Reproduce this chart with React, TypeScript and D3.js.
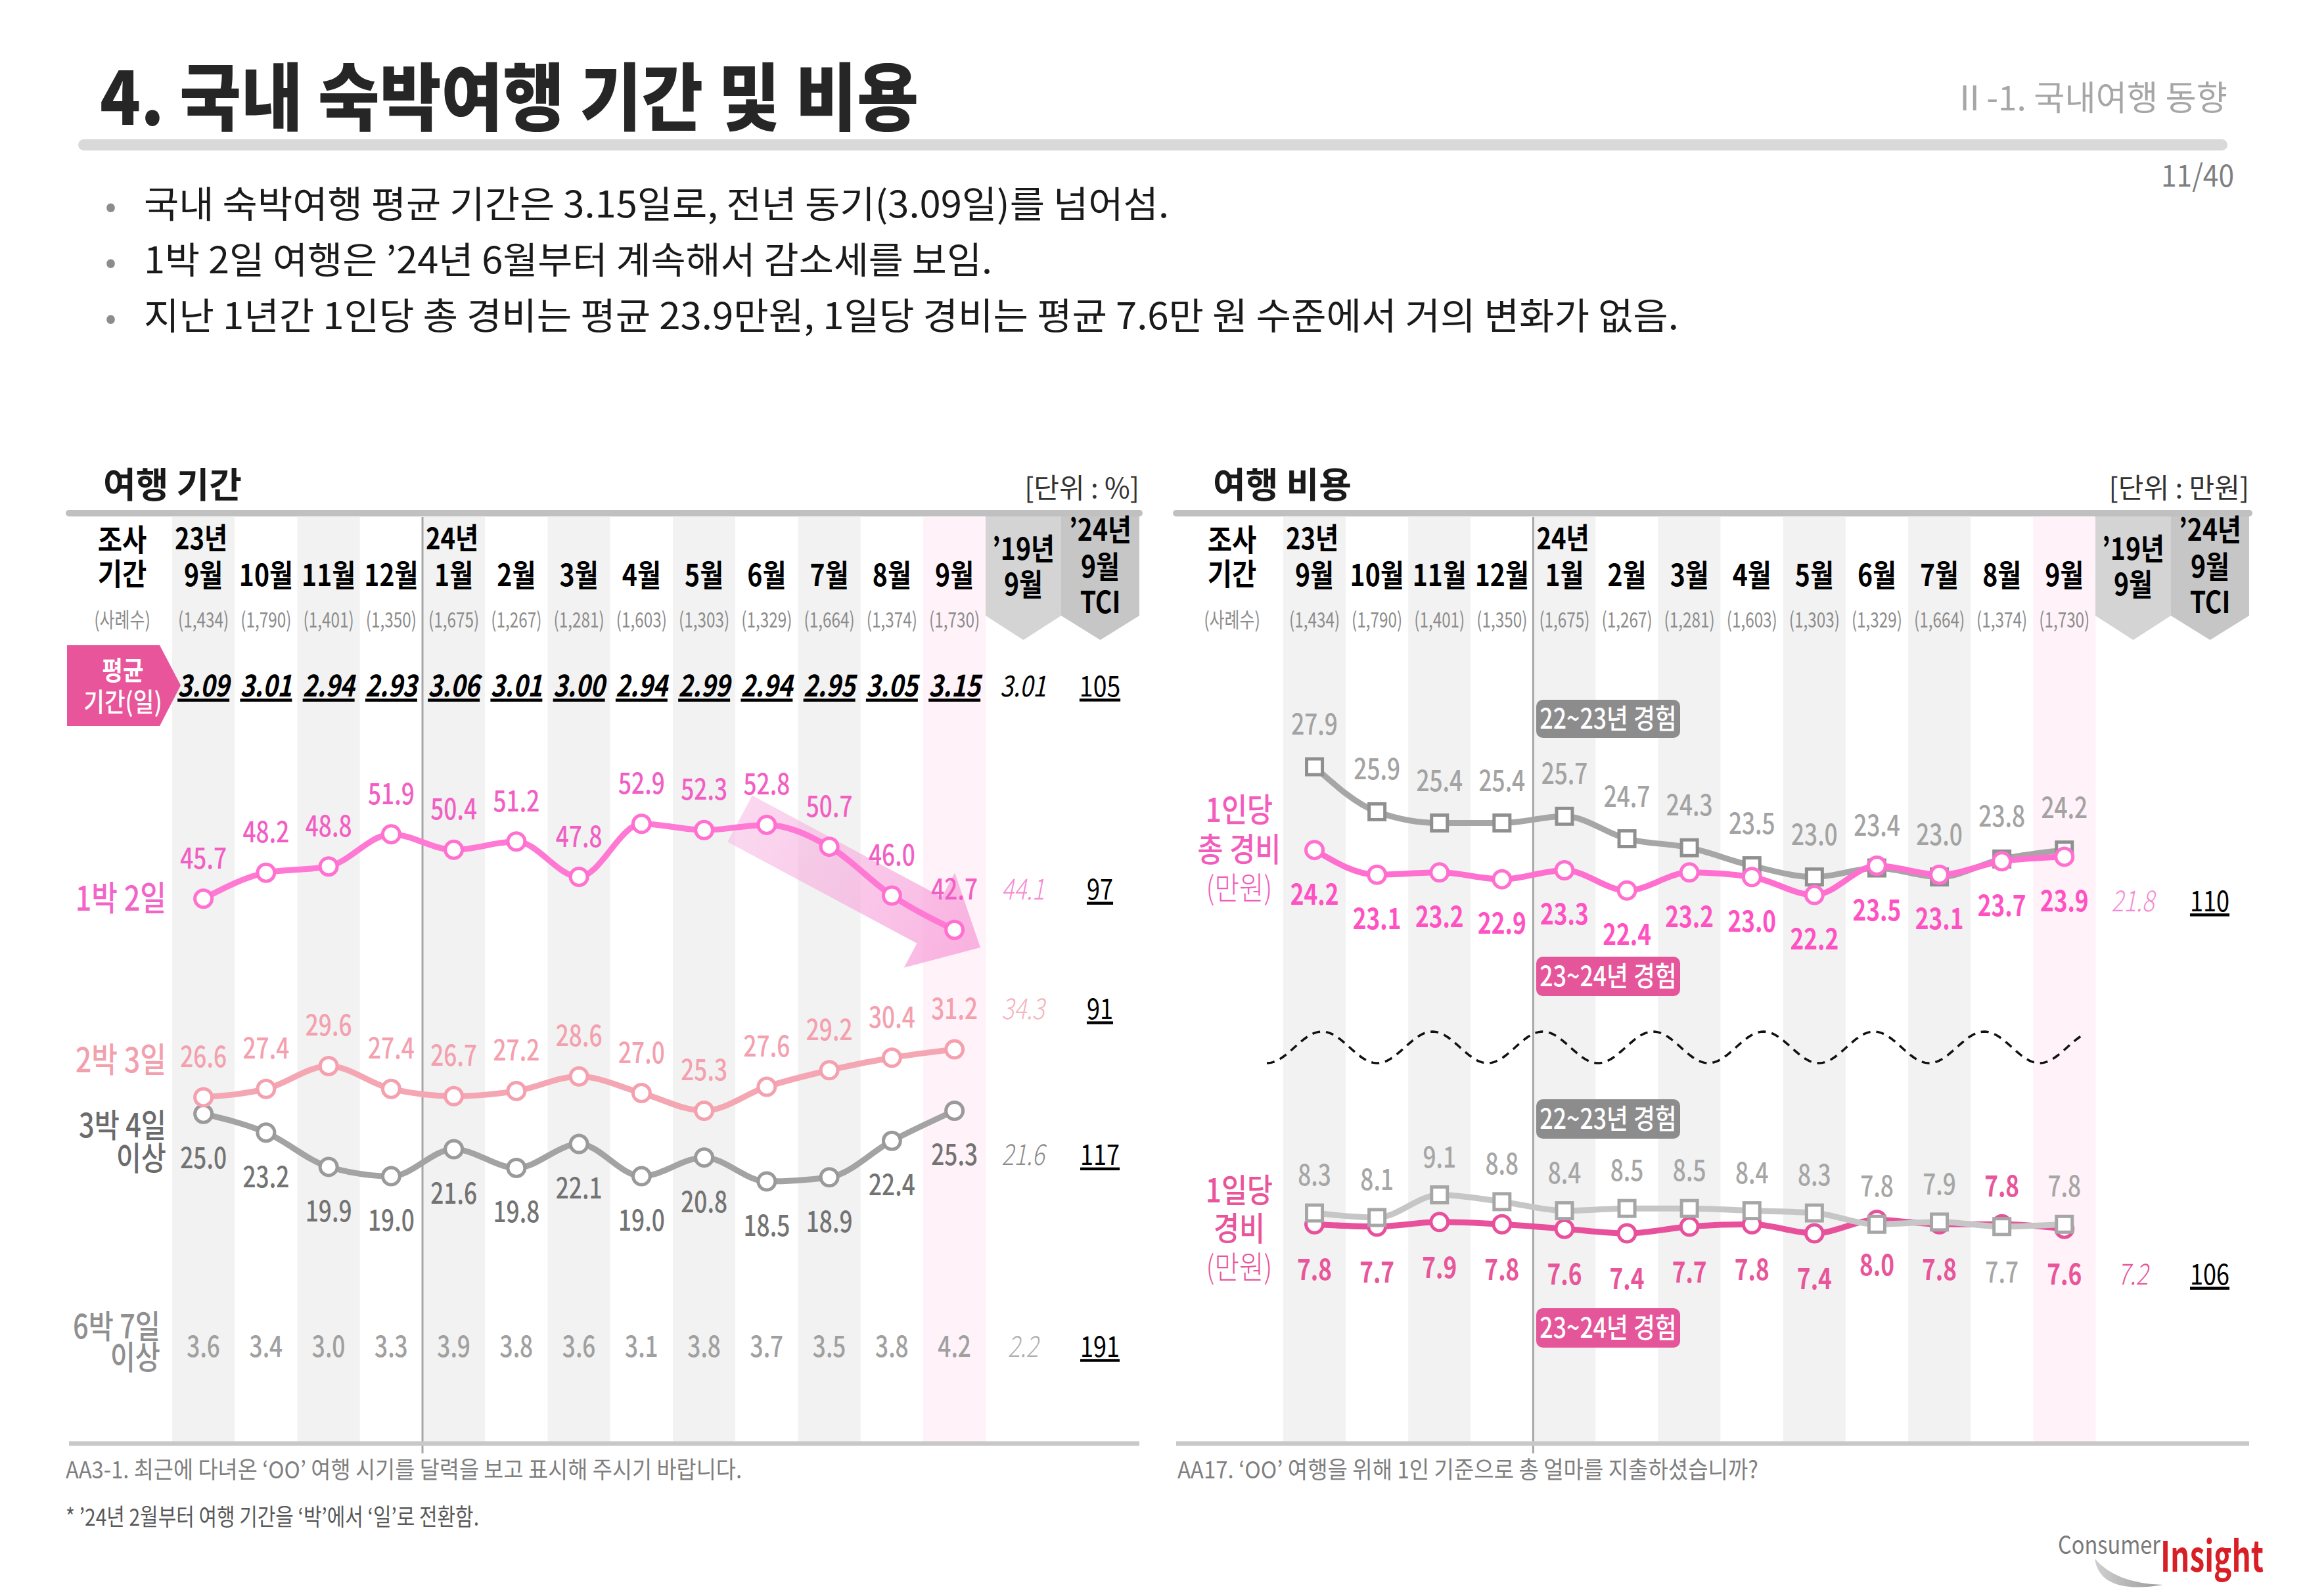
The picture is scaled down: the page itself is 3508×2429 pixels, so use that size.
import React from "react";
import * as d3 from "d3";

const FONT = '"Noto Sans CJK KR", "Noto Sans", sans-serif';

// ---------------- data ----------------
const monthLabels = ["9월", "10월", "11월", "12월", "1월", "2월", "3월", "4월", "5월", "6월", "7월", "8월", "9월"];
const sampleSizes = ["(1,434)", "(1,790)", "(1,401)", "(1,350)", "(1,675)", "(1,267)", "(1,281)", "(1,603)", "(1,303)", "(1,329)", "(1,664)", "(1,374)", "(1,730)"];
const avgDays = ["3.09", "3.01", "2.94", "2.93", "3.06", "3.01", "3.00", "2.94", "2.99", "2.94", "2.95", "3.05", "3.15"];
const avgDays19 = "3.01";
const avgDaysTCI = "105";

const stayNames = ["1박 2일", "2박 3일", "3박 4일", "6박 7일"];
const stay1n2d = [45.7, 48.2, 48.8, 51.9, 50.4, 51.2, 47.8, 52.9, 52.3, 52.8, 50.7, 46.0, 42.7];
const stay2n3d = [26.6, 27.4, 29.6, 27.4, 26.7, 27.2, 28.6, 27.0, 25.3, 27.6, 29.2, 30.4, 31.2];
const stay3n4d = [25.0, 23.2, 19.9, 19.0, 21.6, 19.8, 22.1, 19.0, 20.8, 18.5, 18.9, 22.4, 25.3];
const stay6n7d = [3.6, 3.4, 3.0, 3.3, 3.9, 3.8, 3.6, 3.1, 3.8, 3.7, 3.5, 3.8, 4.2];
const stay19 = [44.1, 34.3, 21.6, 2.2];
const stayTCI = [97, 91, 117, 191];

const totalCost2223 = [27.9, 25.9, 25.4, 25.4, 25.7, 24.7, 24.3, 23.5, 23.0, 23.4, 23.0, 23.8, 24.2];
const totalCost2324 = [24.2, 23.1, 23.2, 22.9, 23.3, 22.4, 23.2, 23.0, 22.2, 23.5, 23.1, 23.7, 23.9];
const dailyCost2223 = [8.3, 8.1, 9.1, 8.8, 8.4, 8.5, 8.5, 8.4, 8.3, 7.8, 7.9, 7.7, 7.8];
const dailyCost2324 = [7.8, 7.7, 7.9, 7.8, 7.6, 7.4, 7.7, 7.8, 7.4, 8.0, 7.8, 7.8, 7.6];
const cost19 = [21.8, 7.2];
const costTCI = [110, 106];
const dailyLabelSwap = [11];

const bullets = [
  "국내 숙박여행 평균 기간은 3.15일로, 전년 동기(3.09일)를 넘어섬.",
  "1박 2일 여행은 ’24년 6월부터 계속해서 감소세를 보임.",
  "지난 1년간 1인당 총 경비는 평균 23.9만원, 1일당 경비는 평균 7.6만 원 수준에서 거의 변화가 없음.",
];

// ---------------- helpers ----------------
type TP = {
  x: number; y: number; size?: number; sx?: number; anchor?: string; fill?: string;
  weight?: number | string; italic?: boolean; underline?: boolean; ls?: number; len?: number; children: any;
};
const T = ({ x, y, size = 40, sx = 1, anchor = "start", fill = "#000", weight = 400, italic = false, underline = false, ls = 0, len, children }: TP) => (
  <text
    transform={`translate(${x},${y}) scale(${sx},1)`}
    fontFamily={FONT}
    fontSize={size}
    textAnchor={anchor as any}
    fill={fill}
    fontWeight={weight as any}
    fontStyle={italic ? "italic" : "normal"}
    textDecoration={underline ? "underline" : undefined}
    letterSpacing={ls || undefined}
    textLength={len}
    lengthAdjust={len ? "spacingAndGlyphs" : undefined}
  >
    {children}
  </text>
);

const fmt = (v: number) => v.toFixed(1);

type PanelCfg = {
  band: d3.ScaleBand<number>;
  lineL: number; lineR: number; title: string; titleX: number; unit: string;
  headCX: number; box19: [number, number]; boxTCI: [number, number];
};

const TOP = 787;
const BOTTOM = 2197;

function PanelFrame({ c }: { c: PanelCfg }) {
  const bw = c.band.bandwidth();
  const cx = (i: number) => (c.band(i) as number) + bw / 2;
  const divX = c.band(4) as number;
  const boxPath = (a: number, b: number) =>
    `M${a},${TOP - 4} L${b},${TOP - 4} L${b},937 L${(a + b) / 2},974 L${a},937 Z`;
  const c19 = (c.box19[0] + c.box19[1]) / 2;
  const cT = (c.boxTCI[0] + c.boxTCI[1]) / 2;
  return (
    <g>
      {d3.range(13).map((i) => (
        <rect key={i} x={c.band(i)} y={TOP} width={bw} height={BOTTOM - TOP}
          fill={i === 12 ? "#fff2f8" : i % 2 === 0 ? "#f2f2f2" : "#ffffff"} />
      ))}
      <path d={boxPath(c.box19[0], c.box19[1])} fill="#d4d4d4" />
      <path d={boxPath(c.boxTCI[0], c.boxTCI[1])} fill="#c6c6c6" />
      <line x1={divX} x2={divX} y1={TOP} y2={2212} stroke="#a6a6a6" strokeWidth={3} />
      <line x1={c.lineL} x2={c.lineR} y1={781} y2={781} stroke="#c0c0c0" strokeWidth={10} strokeLinecap="round" />
      <line x1={c.lineL} x2={c.lineR} y1={BOTTOM} y2={BOTTOM} stroke="#c8c8c8" strokeWidth={7} />
      <T x={c.titleX} y={758} size={54} weight={700} fill="#1a1a1a" sx={1}>{c.title}</T>
      <T x={c.lineR} y={758} size={42} anchor="end" fill="#333" sx={1}>{c.unit}</T>
      <T x={c.headCX} y={838} size={46} weight={700} anchor="middle" sx={0.88}>조사</T>
      <T x={c.headCX} y={890} size={46} weight={700} anchor="middle" sx={0.88}>기간</T>
      <T x={c.headCX} y={955} size={32} anchor="middle" fill="#8c8c8c" sx={0.78}>(사례수)</T>
      <T x={(c.band(0) as number) + 4} y={836} size={45} weight={700} sx={0.85}>23년</T>
      <T x={divX + 5} y={836} size={45} weight={700} sx={0.85}>24년</T>
      {monthLabels.map((m, i) => (
        <T key={i} x={cx(i)} y={892} size={46} weight={700} anchor="middle" sx={0.85}>{m}</T>
      ))}
      {sampleSizes.map((s, i) => (
        <T key={i} x={cx(i)} y={955} size={32} anchor="middle" fill="#8c8c8c" sx={0.76}>{s}</T>
      ))}
      <T x={c19} y={852} size={46} weight={700} anchor="middle" sx={0.85}>’19년</T>
      <T x={c19} y={906} size={46} weight={700} anchor="middle" sx={0.85}>9월</T>
      <T x={cT} y={823} size={46} weight={700} anchor="middle" sx={0.85}>’24년</T>
      <T x={cT} y={879} size={46} weight={700} anchor="middle" sx={0.85}>9월</T>
      <T x={cT} y={933} size={46} weight={700} anchor="middle" sx={0.85}>TCI</T>
    </g>
  );
}

type SeriesProps = {
  vals: number[]; xs: number[]; y: d3.ScaleLinear<number, number>; color: string; mStroke: string;
  width?: number; square?: boolean; r?: number;
};
function Series({ vals, xs, y, color, mStroke, width = 9, square = false, r = 13 }: SeriesProps) {
  const line = d3.line<number>().x((_, i) => xs[i]).y((v) => y(v)).curve(d3.curveMonotoneX);
  return (
    <g>
      <path d={line(vals) || ""} fill="none" stroke={color} strokeWidth={width} strokeLinejoin="round" />
      {vals.map((v, i) =>
        square ? (
          <rect key={i} x={xs[i] - 12} y={y(v) - 12} width={24} height={24} fill="#fff" stroke={mStroke} strokeWidth={5} />
        ) : (
          <circle key={i} cx={xs[i]} cy={y(v)} r={r} fill="#fff" stroke={mStroke} strokeWidth={5} />
        )
      )}
    </g>
  );
}

function Badge({ x, y, w, h, fill, text }: { x: number; y: number; w: number; h: number; fill: string; text: string }) {
  return (
    <g>
      <rect x={x} y={y} width={w} height={h} rx={10} fill={fill} />
      <T x={x + w / 2} y={y + h / 2 + 15} size={42} anchor="middle" fill="#fff" weight={500} sx={0.85}>{text}</T>
    </g>
  );
}

export default function App() {
  const leftBand = d3.scaleBand<number>().domain(d3.range(13)).range([262, 1500.25]);
  const rightBand = d3.scaleBand<number>().domain(d3.range(13)).range([1953, 3189.3]);
  const lx = d3.range(13).map((i) => (leftBand(i) as number) + leftBand.bandwidth() / 2);
  const rx = d3.range(13).map((i) => (rightBand(i) as number) + rightBand.bandwidth() / 2);

  const yStay = d3.scaleLinear().domain([0, 60]).range([2090.7, 1141.5]);
  const yTotal = d3.scaleLinear().domain([20, 30]).range([1437.4, 1095.1]);
  const yDaily = d3.scaleLinear().domain([6, 10]).range([1925.3, 1787.5]);

  const leftCfg: PanelCfg = {
    band: leftBand, lineL: 105, lineR: 1734, title: "여행 기간", titleX: 157, unit: "[단위 : %]",
    headCX: 186, box19: [1500, 1615], boxTCI: [1615, 1734],
  };
  const rightCfg: PanelCfg = {
    band: rightBand, lineL: 1790, lineR: 3423, title: "여행 비용", titleX: 1846, unit: "[단위 : 만원]",
    headCX: 1875, box19: [3189, 3304], boxTCI: [3304, 3423],
  };
  const l19 = 1557, lT = 1674, r19 = 3246, rT = 3363;

  // decorative trend arrow
  const S = [1126, 1246], E = [1492, 1442];
  const ang = Math.atan2(E[1] - S[1], E[0] - S[0]);
  const L = Math.hypot(E[0] - S[0], E[1] - S[1]);
  const bh = 40, hh = 82, hl = 88;
  const arrowLocal = `M0,${-bh} L${L - hl},${-bh} L${L - hl},${-hh} L${L},0 L${L - hl},${hh} L${L - hl},${bh} L0,${bh} Z`;

  // decorative axis-break wave
  const wave = d3.line<number>().x((x) => x).y((x) => 1594 + 24 * Math.cos((2 * Math.PI * (x - 1928)) / 168));
  const waveXs = d3.range(1928, 3173, 3);

  const stayRows = [
    { vals: stay1n2d, lab: "#f25fc4", off: -46 },
    { vals: stay2n3d, lab: "#f4a0ae", off: -46 },
    { vals: stay3n4d, lab: "#737373", off: 83 },
  ];
  const stay19Col = ["#f58ad4", "#f4b3bd", "#8c8c8c", "#b0b0b0"];

  return (
    <svg width={3508} height={2429} style={{ position: "absolute", left: 0, top: 0 }} xmlns="http://www.w3.org/2000/svg">
      <defs>
        <linearGradient id="arrG" x1="0" y1="0" x2="1" y2="0">
          <stop offset="0" stopColor="#f7b8e2" stopOpacity={0.55} />
          <stop offset="1" stopColor="#f79bd8" stopOpacity={0.75} />
        </linearGradient>
        <linearGradient id="swoosh" x1="0" y1="0" x2="1" y2="0">
          <stop offset="0" stopColor="#d0d0d0" />
          <stop offset="1" stopColor="#9a9a9a" />
        </linearGradient>
      </defs>
      <rect width={3508} height={2429} fill="#fff" />

      {/* header */}
      <T x={152} y={190} size={112} weight={900} fill="#262626" len={1246}>4. 국내 숙박여행 기간 및 비용</T>
      <T x={3390} y={168} size={52} anchor="end" fill="#a6a6a6" len={418}>Ⅱ-1. 국내여행 동향</T>
      <rect x={119} y={212} width={3271} height={17} rx={8.5} fill="#d9d9d9" />
      <T x={3400} y={284} size={46} anchor="end" fill="#7f7f7f" len={111}>11/40</T>
      {bullets.map((b, i) => (
        <g key={i}>
          <T x={160} y={331 + i * 85} size={50} fill="#8c8c8c">•</T>
          <T x={219} y={331 + i * 85} size={56} fill="#1a1a1a" len={[1560, 1291, 2336][i]}>{b}</T>
        </g>
      ))}

      {/* ---------- left panel ---------- */}
      <PanelFrame c={leftCfg} />
      <path d="M102,982 L243,982 L275,1043 L243,1105 L102,1105 Z" fill="#e8559a" />
      <T x={187} y={1035} size={40} anchor="middle" fill="#fff" weight={700} sx={0.86}>평균</T>
      <T x={187} y={1083} size={40} anchor="middle" fill="#fff" weight={500} sx={0.86}>기간(일)</T>
      {avgDays.map((v, i) => (
        <T key={i} x={lx[i]} y={1060} size={46} weight={700} italic underline anchor="middle" sx={0.82}>{v}</T>
      ))}
      <T x={l19} y={1060} size={44} italic anchor="middle" sx={0.82}>{avgDays19}</T>
      <T x={lT} y={1060} size={44} underline anchor="middle" sx={0.85}>{avgDaysTCI}</T>

      <path transform={`translate(${S[0]},${S[1]}) rotate(${(ang * 180) / Math.PI})`} d={arrowLocal} fill="url(#arrG)" />

      <Series vals={stay3n4d} xs={lx} y={yStay} color="#a3a3a3" mStroke="#9a9a9a" />
      <Series vals={stay2n3d} xs={lx} y={yStay} color="#f5a6b3" mStroke="#f5a0ae" />
      <Series vals={stay1n2d} xs={lx} y={yStay} color="#ff78d4" mStroke="#ff70d0" />

      {stayRows.map((row, k) => (
        <g key={k}>
          {row.vals.map((v, i) => (
            <T key={i} x={lx[i]} y={yStay(v) + row.off} size={44} anchor="middle" fill={row.lab} weight={500} sx={0.8}>{fmt(v)}</T>
          ))}
          <T x={l19} y={yStay(row.vals[12]) + row.off} size={44} anchor="middle" fill={stay19Col[k]} italic weight={300} sx={0.8}>{fmt(stay19[k])}</T>
          <T x={lT} y={yStay(row.vals[12]) + row.off} size={44} anchor="middle" fill="#000" underline sx={0.82}>{stayTCI[k]}</T>
        </g>
      ))}
      {stay6n7d.map((v, i) => (
        <T key={i} x={lx[i]} y={2065} size={44} anchor="middle" fill="#a0a0a0" weight={500} sx={0.8}>{fmt(v)}</T>
      ))}
      <T x={l19} y={2065} size={44} anchor="middle" fill={stay19Col[3]} italic weight={300} sx={0.8}>{fmt(stay19[3])}</T>
      <T x={lT} y={2065} size={44} anchor="middle" underline sx={0.82}>{stayTCI[3]}</T>

      <T x={253} y={1386} size={52} anchor="end" fill="#f364c8" weight={500} sx={0.83}>{stayNames[0]}</T>
      <T x={253} y={1632} size={52} anchor="end" fill="#f2a0ae" weight={500} sx={0.83}>{stayNames[1]}</T>
      <T x={253} y={1731} size={50} anchor="end" fill="#6b6b6b" weight={500} sx={0.83}>{stayNames[2]}</T>
      <T x={253} y={1781} size={50} anchor="end" fill="#6b6b6b" weight={500} sx={0.83}>이상</T>
      <T x={244} y={2037} size={50} anchor="end" fill="#8f8f8f" weight={500} sx={0.83}>{stayNames[3]}</T>
      <T x={244} y={2084} size={50} anchor="end" fill="#8f8f8f" weight={500} sx={0.83}>이상</T>

      {/* ---------- right panel ---------- */}
      <PanelFrame c={rightCfg} />

      <Series vals={totalCost2223} xs={rx} y={yTotal} color="#a6a6a6" mStroke="#8f8f8f" square />
      <Series vals={totalCost2324} xs={rx} y={yTotal} color="#ff6fcf" mStroke="#ff6fcf" />
      {totalCost2223.map((v, i) => (
        <T key={i} x={rx[i]} y={yTotal(v) - 49} size={44} anchor="middle" fill="#a3a3a3" weight={500} sx={0.8}>{fmt(v)}</T>
      ))}
      {totalCost2324.map((v, i) => (
        <T key={i} x={rx[i]} y={yTotal(v) + 83} size={44} anchor="middle" fill="#ff52c2" weight={700} sx={0.8}>{fmt(v)}</T>
      ))}
      <T x={r19} y={yTotal(totalCost2324[12]) + 83} size={44} anchor="middle" fill="#f58ad4" italic weight={300} sx={0.8}>{fmt(cost19[0])}</T>
      <T x={rT} y={yTotal(totalCost2324[12]) + 83} size={44} anchor="middle" underline sx={0.82}>{costTCI[0]}</T>

      <Series vals={dailyCost2324} xs={rx} y={yDaily} color="#e8509c" mStroke="#e8509c" />
      <Series vals={dailyCost2223} xs={rx} y={yDaily} color="#c6c6c6" mStroke="#a6a6a6" square />
      {dailyCost2223.map((v, i) => {
        const sw = dailyLabelSwap.includes(i);
        return (
          <T key={i} x={rx[i]} y={sw ? yDaily(v) + 85 : yDaily(v) - 42} size={44} anchor="middle" fill="#a6a6a6" weight={500} sx={0.8}>{fmt(v)}</T>
        );
      })}
      {dailyCost2324.map((v, i) => {
        const sw = dailyLabelSwap.includes(i);
        return (
          <T key={i} x={rx[i]} y={sw ? yDaily(v) - 42 : yDaily(v) + 85} size={44} anchor="middle" fill="#e8559a" weight={700} sx={0.8}>{fmt(v)}</T>
        );
      })}
      <T x={r19} y={yDaily(dailyCost2324[12]) + 85} size={44} anchor="middle" fill="#e8559a" italic weight={300} sx={0.8}>{fmt(cost19[1])}</T>
      <T x={rT} y={yDaily(dailyCost2324[12]) + 85} size={44} anchor="middle" underline sx={0.82}>{costTCI[1]}</T>

      <path d={wave(waveXs) || ""} fill="none" stroke="#111" strokeWidth={3.5} strokeDasharray="12 9" />

      <Badge x={2338} y={1065} w={219} h={58} fill="#8c8c8c" text="22~23년 경험" />
      <Badge x={2338} y={1456} w={219} h={60} fill="#e5559a" text="23~24년 경험" />
      <Badge x={2338} y={1673} w={219} h={60} fill="#8c8c8c" text="22~23년 경험" />
      <Badge x={2338} y={1991} w={219} h={60} fill="#e5559a" text="23~24년 경험" />

      <T x={1886} y={1251} size={50} anchor="middle" fill="#f35cbc" weight={500} sx={0.85}>1인당</T>
      <T x={1886} y={1311} size={50} anchor="middle" fill="#f35cbc" weight={500} sx={0.85}>총 경비</T>
      <T x={1886} y={1369} size={48} anchor="middle" fill="#f35cbc" weight={300} sx={0.85}>(만원)</T>
      <T x={1886} y={1830} size={50} anchor="middle" fill="#e8559a" weight={500} sx={0.85}>1일당</T>
      <T x={1886} y={1888} size={50} anchor="middle" fill="#e8559a" weight={500} sx={0.85}>경비</T>
      <T x={1886} y={1946} size={48} anchor="middle" fill="#e8559a" weight={300} sx={0.85}>(만원)</T>

      {/* footnotes */}
      <T x={100} y={2250} size={36} fill="#7f7f7f" len={1029}>AA3-1. 최근에 다녀온 ‘OO’ 여행 시기를 달력을 보고 표시해 주시기 바랍니다.</T>
      <T x={100} y={2322} size={36} fill="#595959" len={629}>* ’24년 2월부터 여행 기간을 ‘박’에서 ‘일’로 전환함.</T>
      <T x={1792} y={2250} size={36} fill="#7f7f7f" len={884}>AA17. ‘OO’ 여행을 위해 1인 기준으로 총 얼마를 지출하셨습니까?</T>

      {/* logo */}
      <path d="M3188,2372 Q3196,2428 3292,2412 Q3220,2410 3188,2372 Z" fill="url(#swoosh)" />
      <T x={3132} y={2365} size={38} fill="#7a7a7a" len={156}>Consumer</T>
      <T x={3288} y={2392} size={64} weight={700} fill="#d81f26" len={157}>Insight</T>
    </svg>
  );
}
